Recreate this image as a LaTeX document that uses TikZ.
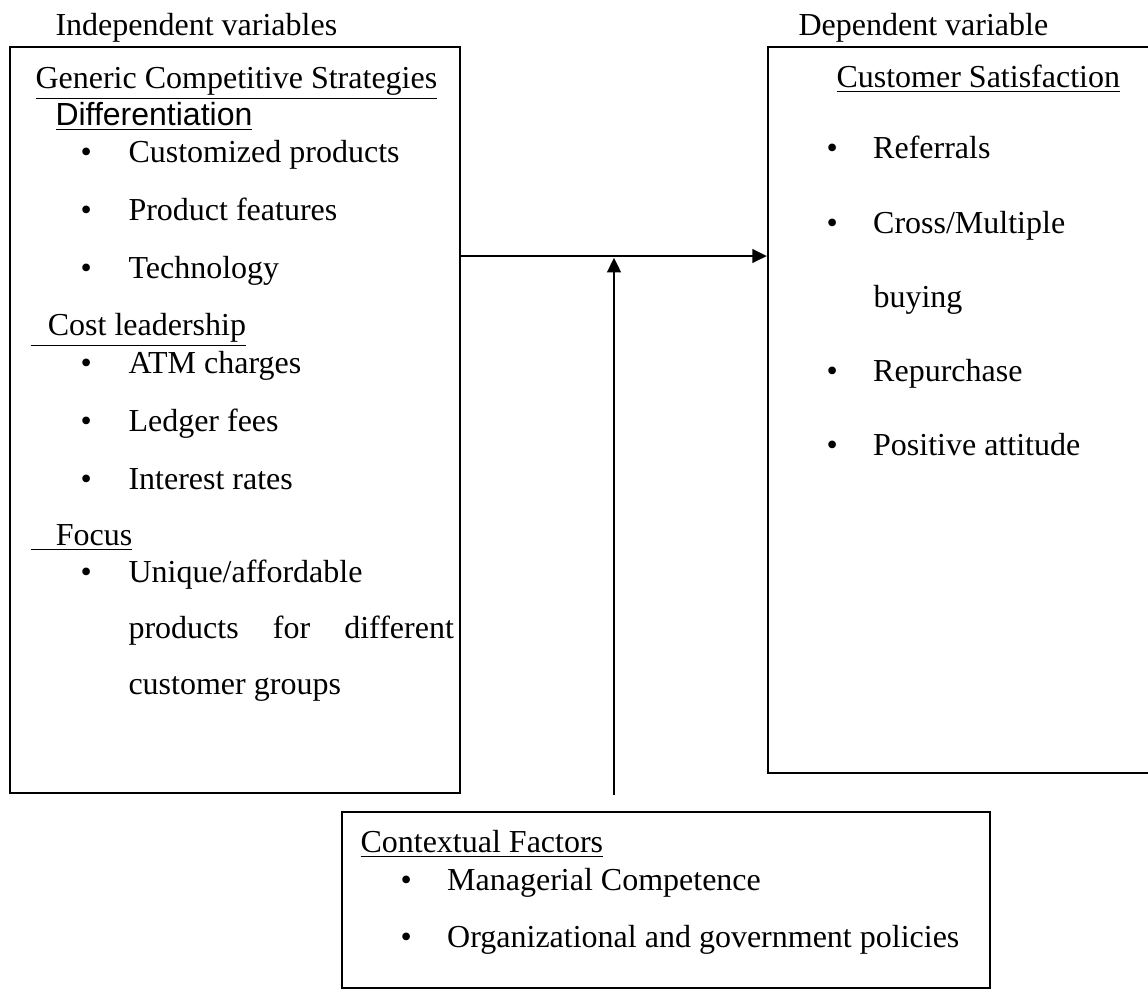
\documentclass[tikz,border=0pt]{standalone}
\usepackage{fontspec}
\setmainfont{Liberation Serif}
\newfontfamily\arialfont{Liberation Sans}
\usetikzlibrary{arrows.meta, positioning, fit}

\newcommand{\bitem}[2]{\makebox[#1][l]{\textbullet}#2}

\begin{document}
\begin{tikzpicture}[x=0.375pt, y=-0.375pt, font=\fontsize{12}{14}\selectfont,
	box/.style={draw, line width=0.75pt, inner sep=0pt},
	txt/.style={anchor=base west, inner sep=0pt},
	arr/.style={line width=1.1pt, -{Triangle[length=5.5pt, width=5pt]}}]
	\useasboundingbox (0,0) rectangle (1148,999);
	% headings above the boxes
	\node[txt] (ivar) at (55,35) {Independent variables};
	\node[txt] (dvar) at (798,35) {Dependent variable};
	% boxes
	\node[box, fit={(10,47) (460,793)}] (indep) {};
	\node[box, fit={(768,47) (1152,773)}] (dep) {};
	\node[box, line width=0.6pt, fit={(342,812) (990,988)}] (ctx) {};
	% left box
	\node[txt] (gcs) at (35,88) {\underline{Generic Competitive Strategies}};
	\node[txt] (diff) at (55,125) {\arialfont\underline{Differentiation}};
	\node[txt] (d1) at (80,162) {\bitem{18pt}{Customized products}};
	\node[txt] (d2) at (80,220) {\bitem{18pt}{Product features}};
	\node[txt] (d3) at (80,278) {\bitem{18pt}{Technology}};
	\node[txt] (cost) at (30,335) {\underline{\hspace*{6.5pt}Cost leadership}};
	\node[txt] (c1) at (80,373) {\bitem{18pt}{ATM charges}};
	\node[txt] (c2) at (80,431) {\bitem{18pt}{Ledger fees}};
	\node[txt] (c3) at (80,489) {\bitem{18pt}{Interest rates}};
	\node[txt] (focus) at (30,545) {\underline{\hspace*{9.5pt}Focus}};
	\node[txt] (f1) at (80,582) {\bitem{18pt}{Unique/affordable}};
	\node[txt] (f2) at (128,638) {\makebox[122pt][s]{products for different}};
	\node[txt] (f3) at (128,694) {customer groups};
	% right box
	\node[txt] (cs) at (836,87) {\underline{Customer Satisfaction}};
	\node[txt] (r1) at (826,158) {\bitem{17.5pt}{Referrals}};
	\node[txt] (r2) at (826,233) {\bitem{17.5pt}{Cross/Multiple}};
	\node[txt] (r2b) at (873,307) {buying};
	\node[txt] (r3) at (826,381) {\bitem{17.5pt}{Repurchase}};
	\node[txt] (r4) at (826,455) {\bitem{17.5pt}{Positive attitude}};
	% bottom box
	\node[txt] (cf) at (360,852) {\underline{Contextual Factors}};
	\node[txt] (m1) at (400,890) {\bitem{17.5pt}{Managerial Competence}};
	\node[txt] (m2) at (400,947) {\bitem{17.5pt}{Organizational and government policies}};
	% arrows
	\coordinate (mid) at (614,256);
	\coordinate (ctxtop) at (614,795);
	\draw[arr] (indep.east |- mid) -- (dep.west |- mid);
	\draw[arr] (ctxtop) -- ([yshift=-0.6pt]mid);
\end{tikzpicture}
\end{document}
